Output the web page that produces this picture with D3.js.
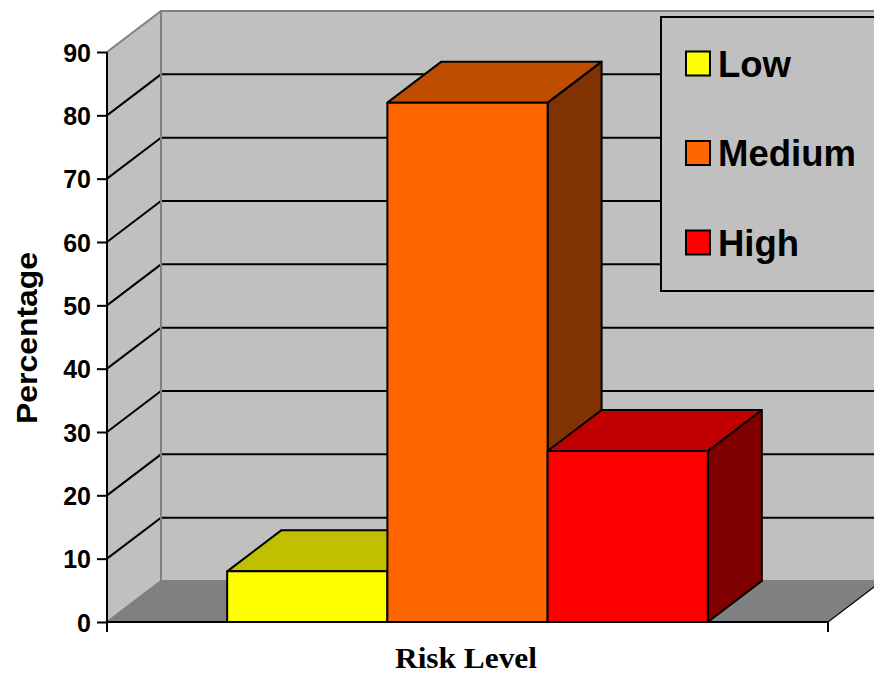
<!DOCTYPE html>
<html>
<head>
<meta charset="utf-8">
<script src="https://cdn.jsdelivr.net/npm/d3@7"></script>
<style>
  html, body { margin: 0; padding: 0; background: #fff; }
  svg { display: block; }
</style>
</head>
<body>
<svg id="chart" width="874" height="678"></svg>
<script>
// Risk level distribution (percentage of cases)
const series = ["Low", "Medium", "High"];
const values = [8, 82, 27];
const yTicks = [0, 10, 20, 30, 40, 50, 60, 70, 80, 90];
const frontColors = ["#FFFF00", "#FF6600", "#FF0000"];
const topColors = ["#C0C000", "#BF4D00", "#C00000"];
const sideColors = ["#808000", "#803300", "#800000"];

const svg = d3.select("#chart");
const font = "'Liberation Sans', Arial, sans-serif";

// Plot frame (front plane) and depth offset of the 3D walls
const plotLeft = 107, plotRight = 828, plotBottom = 622, plotTop = 52;
const dx = 54, dy = -41;

const y = d3.scaleLinear().domain([0, 90]).range([plotBottom, plotTop]);
// One category group, 50% gap width split on either side
const groupW = (plotRight - plotLeft) / 1.5;
const margin = (plotRight - plotLeft - groupW) / 2;
const x = d3.scaleBand().domain(series)
  .range([plotLeft + margin, plotRight - margin])
  .paddingInner(0).paddingOuter(0);

const pts = a => a.map(p => p.join(",")).join(" ");
const farX = plotRight + dx + 10;

// Side wall
svg.append("polygon")
  .attr("points", pts([[plotLeft, y(0)], [plotLeft, y(90)], [plotLeft + dx, y(90) + dy], [plotLeft + dx, y(0) + dy]]))
  .attr("fill", "#C0C0C0");
// Back wall
svg.append("polygon")
  .attr("points", pts([[plotLeft + dx, y(90) + dy], [farX, y(90) + dy], [farX, y(0) + dy], [plotLeft + dx, y(0) + dy]]))
  .attr("fill", "#C0C0C0");
// Floor
svg.append("polygon")
  .attr("points", pts([[plotLeft, y(0)], [plotRight, y(0)], [plotRight + dx, y(0) + dy], [plotLeft + dx, y(0) + dy]]))
  .attr("fill", "#808080");

// Gridlines on side and back walls
const grid = yTicks.filter(v => v > 0 && v < 90);
svg.append("g").selectAll("path").data(grid).join("path")
  .attr("d", v => `M${plotLeft},${y(v)}L${plotLeft + dx},${y(v) + dy}L${farX},${y(v) + dy}`)
  .attr("fill", "none").attr("stroke", "#000").attr("stroke-width", 2);

// Wall edges
svg.append("path")
  .attr("d", `M${plotLeft},${y(90)}L${plotLeft + dx},${y(90) + dy}L${farX},${y(90) + dy}`
    + `M${plotLeft + dx},${y(90) + dy}L${plotLeft + dx},${y(0) + dy}`
    + `M${plotLeft},${y(0)}L${plotLeft + dx},${y(0) + dy}L${farX},${y(0) + dy}`)
  .attr("fill", "none").attr("stroke", "#808080").attr("stroke-width", 2);
svg.append("path")
  .attr("d", `M${plotRight},${y(0)}L${plotRight + dx},${y(0) + dy}`)
  .attr("fill", "none").attr("stroke", "#000").attr("stroke-width", 1.2);

// 3D bars, drawn left to right
const bars = svg.append("g").selectAll("g").data(series).join("g");
bars.each(function (s, i) {
  const g = d3.select(this);
  const x0 = x(s), x1 = x(s) + x.bandwidth();
  const yt = y(values[i]), yb = y(0);
  const face = (p, c) => g.append("polygon").attr("points", pts(p)).attr("fill", c)
    .attr("stroke", "#000").attr("stroke-width", 2).attr("stroke-linejoin", "round");
  face([[x1, yt], [x1 + dx, yt + dy], [x1 + dx, yb + dy], [x1, yb]], sideColors[i]);
  face([[x0, yt], [x0 + dx, yt + dy], [x1 + dx, yt + dy], [x1, yt]], topColors[i]);
  face([[x0, yt], [x1, yt], [x1, yb], [x0, yb]], frontColors[i]);
});

// Value axis
const yAxis = d3.axisLeft(y).tickValues(yTicks).tickSize(10).tickPadding(6).tickFormat(d3.format("d"));
const ya = svg.append("g").attr("transform", `translate(${plotLeft},0)`).call(yAxis);
ya.select(".domain").remove();
ya.selectAll(".tick line").attr("stroke", "#000").attr("stroke-width", 2);
ya.selectAll(".tick text")
  .attr("font-family", font).attr("font-weight", "bold").attr("font-size", 25)
  .attr("fill", "#000").attr("dy", "0.36em");
svg.append("line")
  .attr("x1", plotLeft).attr("x2", plotLeft).attr("y1", y(90)).attr("y2", y(0) + 10)
  .attr("stroke", "#000").attr("stroke-width", 2);

// Category axis line with end tick
svg.append("path")
  .attr("d", `M${plotLeft},${y(0)}L${plotRight},${y(0)}M${plotRight},${y(0)}L${plotRight},${y(0) + 10}`)
  .attr("fill", "none").attr("stroke", "#000").attr("stroke-width", 2);

// Axis titles
svg.append("text")
  .attr("transform", `translate(37,338) rotate(-90)`)
  .attr("text-anchor", "middle")
  .attr("font-family", font).attr("font-weight", "bold").attr("font-size", 30)
  .attr("textLength", 172).attr("lengthAdjust", "spacingAndGlyphs")
  .text("Percentage");
svg.append("text")
  .attr("x", 466).attr("y", 668)
  .attr("text-anchor", "middle")
  .attr("font-family", "'Liberation Serif', 'Times New Roman', serif")
  .attr("font-weight", "bold").attr("font-size", 29)
  .attr("textLength", 142).attr("lengthAdjust", "spacingAndGlyphs")
  .text("Risk Level");

// Legend
const legend = svg.append("g");
legend.append("rect")
  .attr("x", 661).attr("y", 17).attr("width", 240).attr("height", 274)
  .attr("fill", "#C0C0C0").attr("stroke", "#000").attr("stroke-width", 2);
const rowY = d3.scalePoint().domain(series).range([63.5, 242.5]);
const items = legend.selectAll("g.item").data(series).join("g")
  .attr("class", "item")
  .attr("transform", s => `translate(686,${rowY(s)})`);
items.append("rect")
  .attr("x", 0).attr("y", -12).attr("width", 24).attr("height", 24)
  .attr("fill", (s, i) => frontColors[i]).attr("stroke", "#000").attr("stroke-width", 2);
items.append("text")
  .attr("x", 32).attr("y", 0).attr("dy", "0.36em")
  .attr("font-family", font).attr("font-weight", "bold").attr("font-size", 36.5)
  .text(s => s);
</script>
</body>
</html>
